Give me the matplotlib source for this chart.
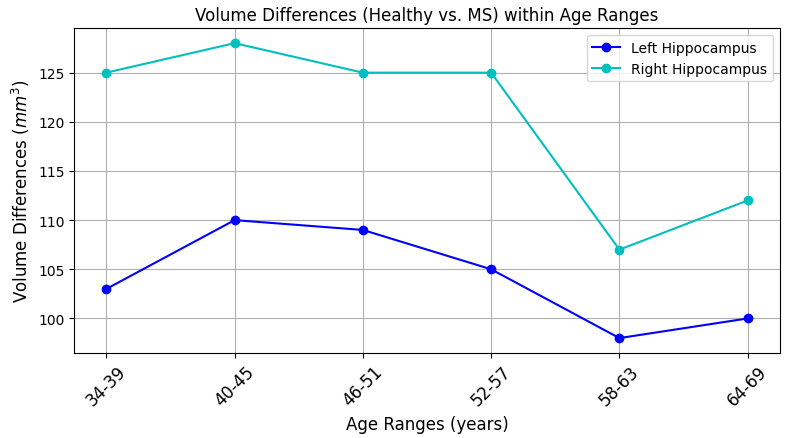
import matplotlib
matplotlib.use('Agg')
import matplotlib.pyplot as plt

age_ranges = ['34-39', '40-45', '46-51', '52-57', '58-63', '64-69']
left_hippo = [103, 110, 109, 105, 98, 100]
right_hippo = [125, 128, 125, 125, 107, 112]

fig, ax = plt.subplots(figsize=(7.9, 4.39), dpi=100)
ax.plot(age_ranges, left_hippo, 'o-', color='b', label='Left Hippocampus')
ax.plot(age_ranges, right_hippo, 'o-', color='c', label='Right Hippocampus')

ax.set_title('Volume Differences (Healthy vs. MS) within Age Ranges')
ax.set_xlabel('Age Ranges (years)', fontsize=12)
ax.set_ylabel('Volume Differences ($mm^3$)', fontsize=12)
plt.xticks(rotation=45, fontsize=12)
ax.legend()
ax.grid(True)

plt.subplots_adjust(left=0.094, right=0.987, top=0.933, bottom=0.194)
plt.savefig('out.png', dpi=100)
